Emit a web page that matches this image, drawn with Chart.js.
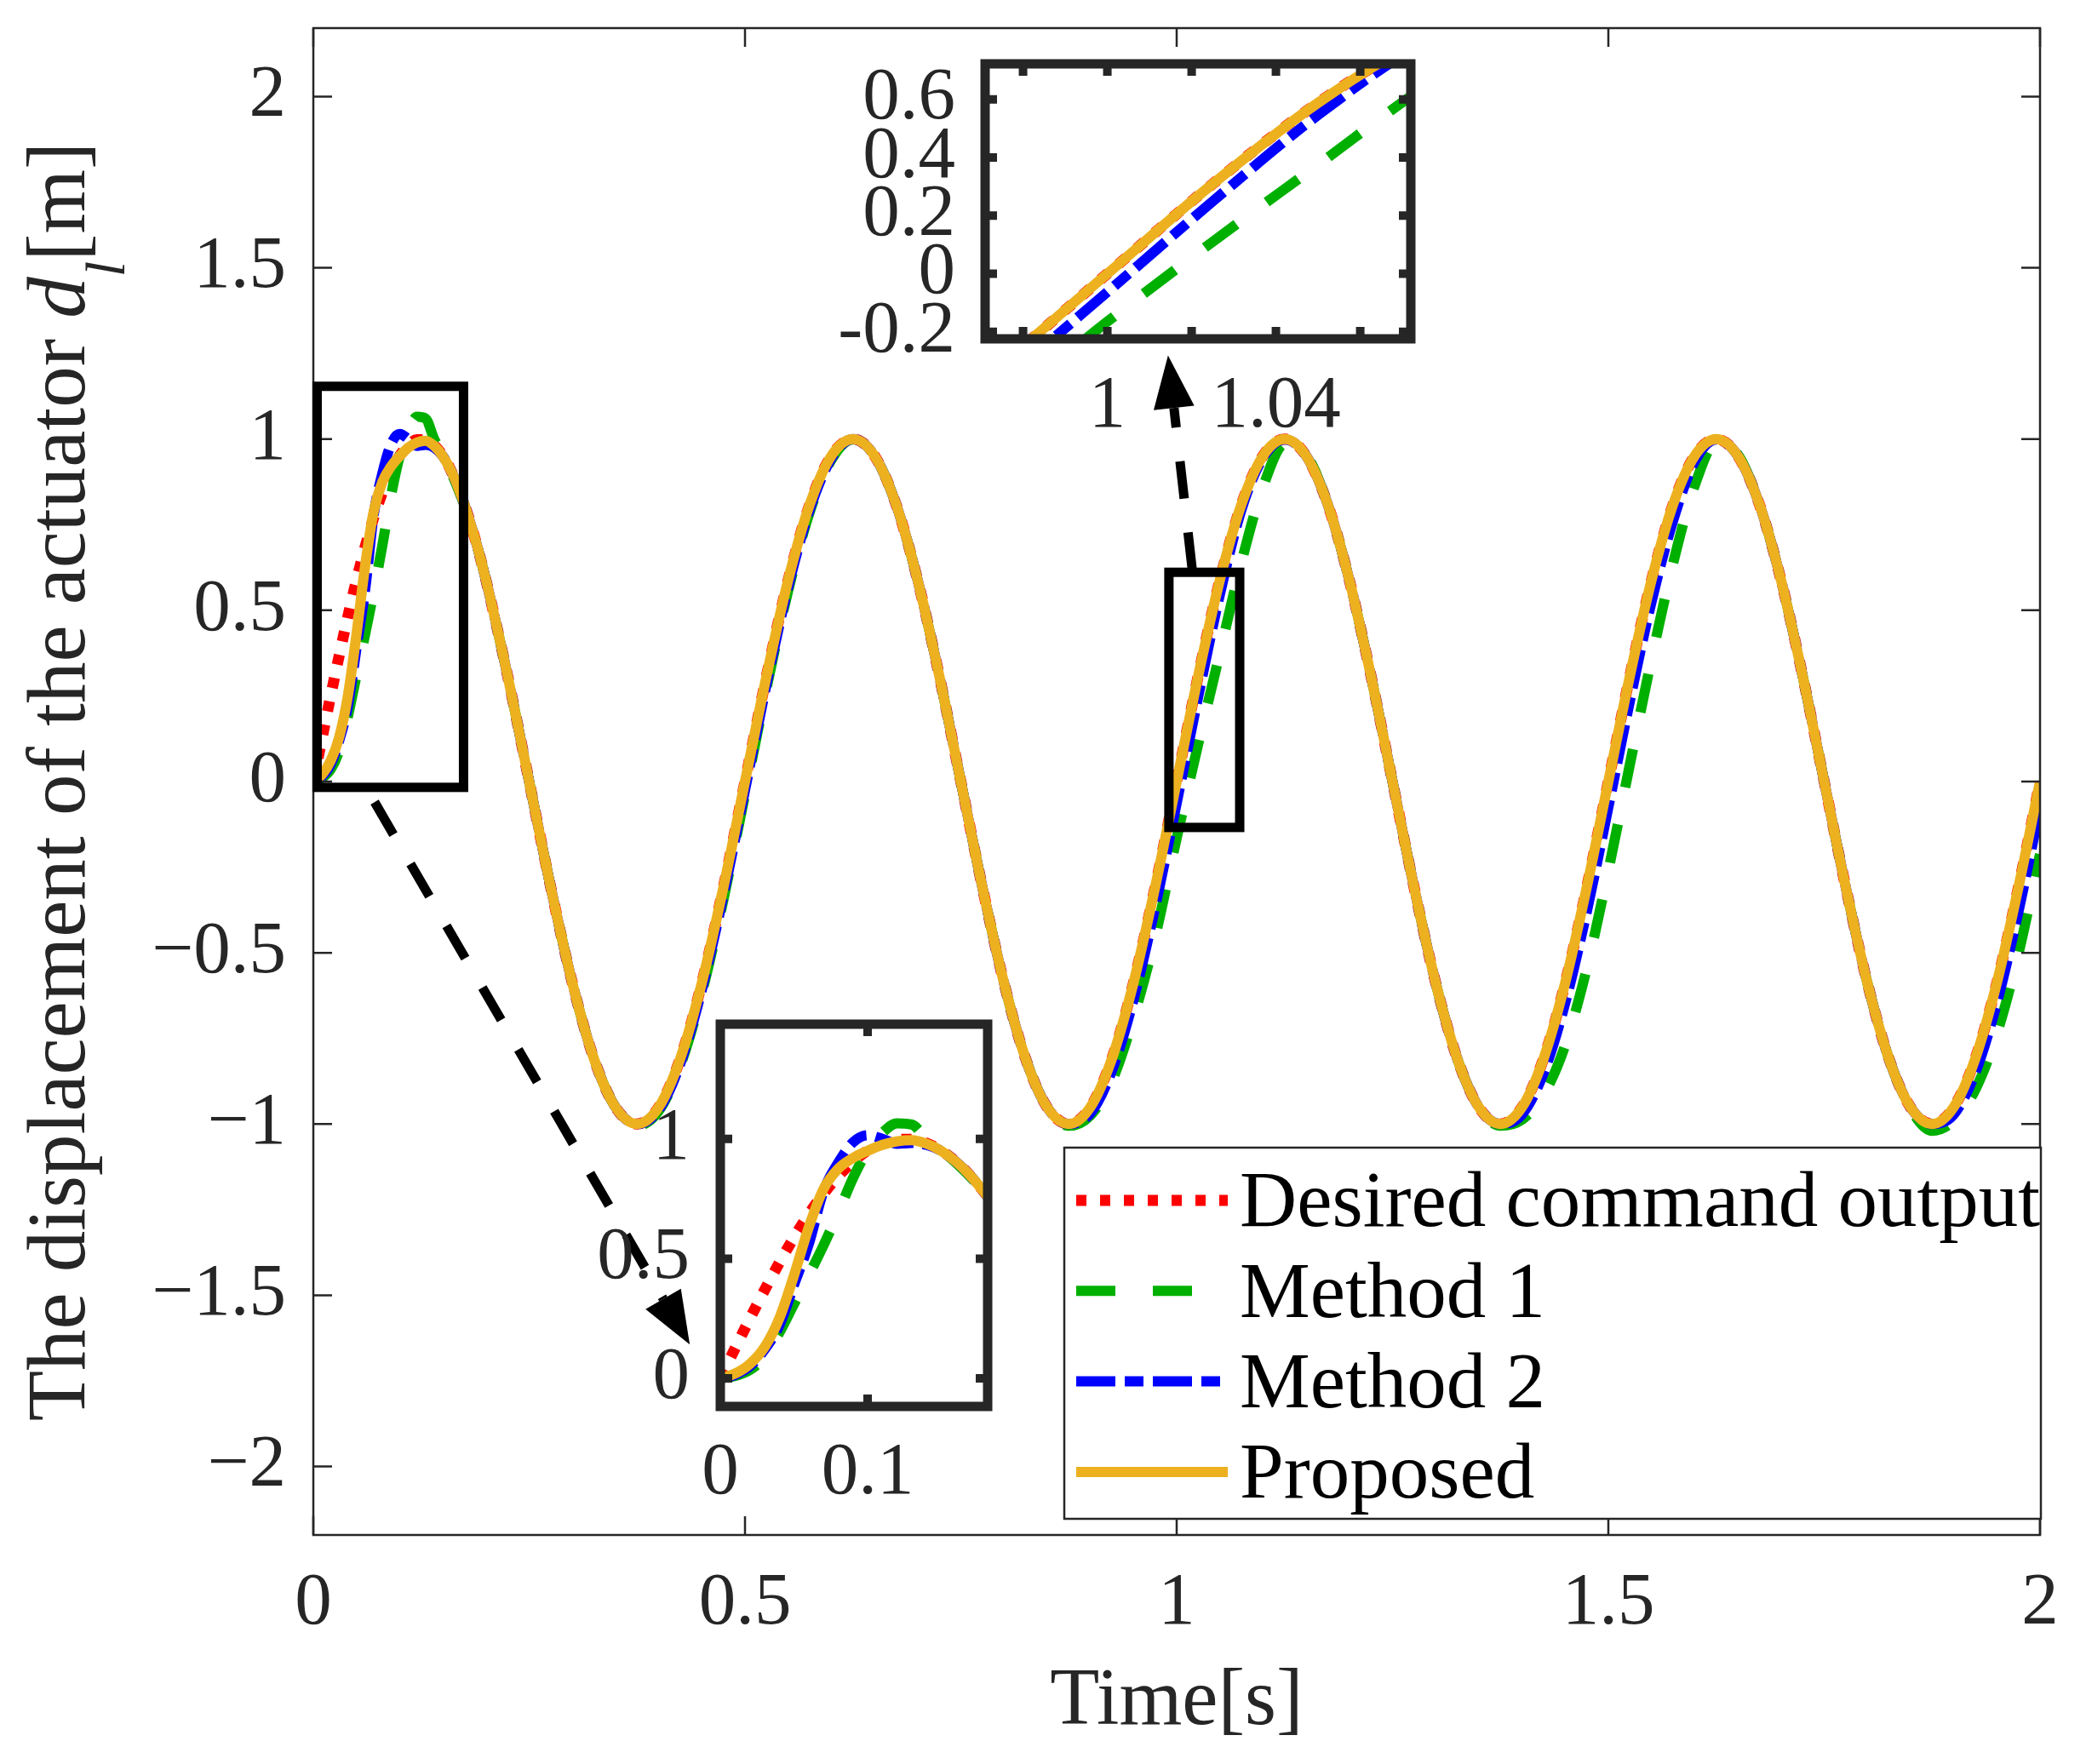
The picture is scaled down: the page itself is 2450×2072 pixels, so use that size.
<!DOCTYPE html>
<html>
<head>
<meta charset="utf-8">
<script src="https://cdn.jsdelivr.net/npm/chart.js@4.4.1/dist/chart.umd.min.js"></script>
<style>
html,body{margin:0;padding:0;background:#fff;}
#wrap{position:relative;width:2450px;height:2072px;overflow:hidden;background:#fff;}
#wrap canvas{position:absolute;}
</style>
</head>
<body>
<div id="wrap">
<canvas id="mainChart" width="2450" height="2072" style="left:0;top:0;width:2450px;height:2072px;"></canvas>
<canvas id="insetA" width="725" height="498" style="left:957px;top:50px;width:725px;height:498px;"></canvas>
<canvas id="insetB" width="539" height="624" style="left:646px;top:1178px;width:539px;height:624px;"></canvas>
</div>
<script>
// ---------------- data ----------------
const time = [0,0.01,0.02,0.03,0.04,0.05,0.06,0.07,0.08,0.09,0.1,0.11,0.12,0.13,0.14,0.15,0.16,0.17,0.18,0.19,0.2,
  0.225,0.25,0.275,0.3,0.325,0.35,0.375,0.4,0.425,0.45,0.475,
  0.5,0.525,0.55,0.575,0.6,0.625,0.65,0.675,0.7,0.725,
  0.75,0.775,0.8,0.825,0.85,0.875,0.9,0.925,0.95,0.975,
  1.0,1.025,1.05,1.075,1.1,1.125,1.15,1.175,1.2,1.225,
  1.25,1.275,1.3,1.325,1.35,1.375,1.4,1.425,1.45,1.475,
  1.5,1.525,1.55,1.575,1.6,1.625,1.65,1.675,1.7,1.725,
  1.75,1.775,1.8,1.825,1.85,1.875,1.9,1.925,1.95,1.975,
  2.0];

const desired = [0,0.125,0.249,0.368,0.482,0.588,0.685,0.771,0.844,0.905,0.951,0.982,0.998,0.998,0.982,0.951,0.905,0.844,0.771,0.685,0.588,
  0.309,0,-0.309,-0.588,-0.809,-0.951,-1,-0.951,-0.809,-0.588,-0.309,
  0,0.309,0.588,0.809,0.951,1,0.951,0.809,0.588,0.309,
  0,-0.309,-0.588,-0.809,-0.951,-1,-0.951,-0.809,-0.588,-0.309,
  0,0.309,0.588,0.809,0.951,1,0.951,0.809,0.588,0.309,
  0,-0.309,-0.588,-0.809,-0.951,-1,-0.951,-0.809,-0.588,-0.309,
  0,0.309,0.588,0.809,0.951,1,0.951,0.809,0.588,0.309,
  0,-0.309,-0.588,-0.809,-0.951,-1,-0.951,-0.809,-0.588,-0.309,
  0];

const method1 = [0,0.01,0.035,0.09,0.19,0.31,0.43,0.555,0.69,0.835,0.95,1.025,1.065,1.06,1.0,0.955,0.9,0.84,0.77,0.685,0.588,
  0.309,0,-0.309,-0.588,-0.809,-0.951,-1.005,-0.962,-0.83,-0.618,-0.345,
  -0.038,0.273,0.557,0.787,0.939,0.999,0.951,0.809,0.588,0.309,
  0,-0.309,-0.588,-0.809,-0.951,-1.005,-0.975,-0.875,-0.69,-0.455,
  -0.165,0.11,0.375,0.64,0.86,0.985,0.955,0.809,0.588,0.309,
  0,-0.309,-0.588,-0.809,-0.951,-1.005,-0.987,-0.915,-0.77,-0.546,
  -0.26,0.051,0.357,0.637,0.864,0.989,0.955,0.809,0.588,0.309,
  0,-0.309,-0.588,-0.809,-0.955,-1.02,-0.99,-0.9,-0.737,-0.503,
  -0.212];

const method2 = [0,0.015,0.05,0.12,0.22,0.39,0.56,0.78,0.9,0.985,1.015,1.0,0.98,0.983,0.975,0.95,0.905,0.845,0.77,0.685,0.588,
  0.309,0,-0.309,-0.588,-0.809,-0.951,-1,-0.959,-0.824,-0.608,-0.333,
  -0.025,0.285,0.567,0.794,0.943,1,0.951,0.809,0.588,0.309,
  0,-0.309,-0.588,-0.809,-0.951,-1,-0.969,-0.844,-0.637,-0.368,
  -0.063,0.249,0.546,0.794,0.945,0.999,0.951,0.809,0.588,0.309,
  0,-0.309,-0.588,-0.809,-0.951,-1,-0.972,-0.851,-0.647,-0.38,
  -0.075,0.236,0.525,0.762,0.934,0.999,0.951,0.809,0.588,0.309,
  0,-0.309,-0.588,-0.809,-0.951,-1,-0.972,-0.851,-0.647,-0.38,
  -0.075];

const proposed = [0,0.02,0.06,0.13,0.25,0.43,0.63,0.79,0.875,0.92,0.95,0.975,0.99,0.995,0.98,0.95,0.905,0.845,0.77,0.685,0.588,
  0.309,0,-0.309,-0.588,-0.809,-0.951,-1,-0.951,-0.809,-0.588,-0.309,
  0,0.309,0.588,0.809,0.951,1,0.951,0.809,0.588,0.309,
  0,-0.309,-0.588,-0.809,-0.951,-1,-0.951,-0.809,-0.588,-0.309,
  0,0.309,0.588,0.809,0.951,1,0.951,0.809,0.588,0.309,
  0,-0.309,-0.588,-0.809,-0.951,-1,-0.951,-0.809,-0.588,-0.309,
  0,0.309,0.588,0.809,0.951,1,0.951,0.809,0.588,0.309,
  0,-0.309,-0.588,-0.809,-0.951,-1,-0.951,-0.809,-0.588,-0.309,
  0];

const seriesNames = ['Desired command output', 'Method 1', 'Method 2', 'Proposed'];

const mainXTicks = [0, 0.5, 1, 1.5, 2];
const mainXTickLabels = ['0', '0.5', '1', '1.5', '2'];
const mainYTicks = [-2, -1.5, -1, -0.5, 0, 0.5, 1, 1.5, 2];
const mainYTickLabels = ['\u22122', '\u22121.5', '\u22121', '\u22120.5', '0', '0.5', '1', '1.5', '2'];

const insetAXTicks = [0.98, 1, 1.02, 1.04, 1.06];
const insetAXTickLabels = ['', '1', '', '1.04', ''];
const insetAYTicks = [-0.2, 0, 0.2, 0.4, 0.6];
const insetAYTickLabels = ['-0.2', '0', '0.2', '0.4', '0.6'];

const insetBXTicks = [0, 0.1];
const insetBXTickLabels = ['0', '0.1'];
const insetBYTicks = [0, 0.5, 1];
const insetBYTickLabels = ['0', '0.5', '1'];

const xTitle = 'Time[s]';
const yTitleParts = ['The displacement of the actuator ', 'd', 'l', '[m]'];

// ---------------- styles ----------------
const FAM = "'Liberation Serif', 'Times New Roman', serif";
const INK = '#262626';
const seriesValues = [desired, method1, method2, proposed];
const seriesStyles = [
  {color: '#ff0000', width: 13, dash: [12, 16], order: 3},
  {color: '#00b000', width: 12, dash: [46, 44], order: 2},
  {color: '#0000ff', width: 12, dash: [46, 11, 22, 11], order: 1},
  {color: '#edb120', width: 12, dash: [], order: 0}
];

function buildDatasets(clip) {
  return seriesValues.map((vals, i) => ({
    label: seriesNames[i],
    data: time.map((t, k) => ({x: t, y: vals[k]})),
    borderColor: seriesStyles[i].color,
    backgroundColor: seriesStyles[i].color,
    borderWidth: seriesStyles[i].width,
    borderDash: seriesStyles[i].dash,
    borderCapStyle: 'butt',
    borderJoinStyle: 'round',
    pointRadius: 0,
    pointHoverRadius: 0,
    fill: false,
    cubicInterpolationMode: 'monotone',
    order: seriesStyles[i].order,
    clip: clip
  }));
}

function scaleOpts(min, max, ticks, labels, pad, fitSize, isX, fontSize) {
  return {
    type: 'linear', min: min, max: max, position: isX ? 'bottom' : 'left',
    grid: {display: false, drawTicks: false},
    border: {display: false},
    ticks: {
      font: {family: FAM, size: fontSize}, color: INK, padding: pad,
      autoSkip: false, maxRotation: 0, minRotation: 0, includeBounds: false,
      callback: (v, i) => labels[i]
    },
    afterBuildTicks: s => { s.ticks = ticks.map(v => ({value: v})); },
    afterFit: s => {
      if (isX) s.height = fitSize; else s.width = fitSize;
      s.paddingLeft = 0; s.paddingRight = 0; s.paddingTop = 0; s.paddingBottom = 0;
    }
  };
}

// ---------------- plugins ----------------
const bgPlugin = {
  id: 'bg',
  beforeDraw(chart, args, o) {
    const ctx = chart.ctx, a = chart.chartArea;
    ctx.save();
    ctx.fillStyle = '#ffffff';
    if (o.whole) ctx.fillRect(0, 0, chart.width, chart.height);
    else ctx.fillRect(a.left, a.top, a.right - a.left, a.bottom - a.top);
    ctx.restore();
  }
};

const framePlugin = {
  id: 'frame',
  afterDatasetsDraw(chart, args, o) {
    const ctx = chart.ctx, a = chart.chartArea, x = chart.scales.x, y = chart.scales.y;
    ctx.save();
    ctx.setLineDash([]);
    ctx.lineCap = 'butt';
    ctx.strokeStyle = o.color;
    ctx.lineWidth = o.tickWidth;
    ctx.beginPath();
    x.ticks.forEach(t => {
      const px = x.getPixelForValue(t.value);
      ctx.moveTo(px, a.bottom); ctx.lineTo(px, a.bottom - o.tickLen);
      ctx.moveTo(px, a.top); ctx.lineTo(px, a.top + o.tickLen);
    });
    y.ticks.forEach(t => {
      const py = y.getPixelForValue(t.value);
      ctx.moveTo(a.left, py); ctx.lineTo(a.left + o.tickLen, py);
      ctx.moveTo(a.right, py); ctx.lineTo(a.right - o.tickLen, py);
    });
    ctx.stroke();
    ctx.lineWidth = o.lineWidth;
    ctx.lineJoin = 'miter';
    ctx.strokeRect(a.left, a.top, a.right - a.left, a.bottom - a.top);
    ctx.restore();
  }
};

const annotPlugin = {
  id: 'annot',
  afterDraw(chart, args, o) {
    const ctx = chart.ctx, x = chart.scales.x, y = chart.scales.y;
    ctx.save();
    ctx.strokeStyle = '#000';
    ctx.fillStyle = '#000';
    ctx.lineWidth = o.lineWidth;
    ctx.setLineDash([]);
    ctx.lineJoin = 'miter';
    o.boxes.forEach(b => {
      const x0 = x.getPixelForValue(b.x0), x1 = x.getPixelForValue(b.x1);
      const y0 = y.getPixelForValue(b.y1), y1 = y.getPixelForValue(b.y0);
      ctx.strokeRect(x0, y0, x1 - x0, y1 - y0);
    });
    o.arrows.forEach(ar => {
      const sx = x.getPixelForValue(ar.from[0]), sy = y.getPixelForValue(ar.from[1]);
      const tx = x.getPixelForValue(ar.to[0]), ty = y.getPixelForValue(ar.to[1]);
      const len = Math.hypot(tx - sx, ty - sy);
      const ux = (tx - sx) / len, uy = (ty - sy) / len;
      const bx = tx - ux * o.headLen, by = ty - uy * o.headLen;
      ctx.setLineDash(o.dash);
      ctx.lineCap = 'butt';
      ctx.beginPath(); ctx.moveTo(sx, sy); ctx.lineTo(bx, by); ctx.stroke();
      ctx.setLineDash([]);
      ctx.beginPath();
      ctx.moveTo(tx, ty);
      ctx.lineTo(bx - uy * o.headHalf, by + ux * o.headHalf);
      ctx.lineTo(bx + uy * o.headHalf, by - ux * o.headHalf);
      ctx.closePath(); ctx.fill();
    });
    ctx.restore();
  }
};

const legendPlugin = {
  id: 'boxLegend',
  afterDraw(chart, args, o) {
    const ctx = chart.ctx;
    ctx.save();
    ctx.fillStyle = '#fff';
    ctx.fillRect(o.left, o.top, o.right - o.left, o.bottom - o.top);
    ctx.strokeStyle = INK; ctx.lineWidth = 2.5; ctx.setLineDash([]);
    ctx.strokeRect(o.left, o.top, o.right - o.left, o.bottom - o.top);
    chart.data.datasets.forEach((ds, i) => {
      const yy = o.firstY + i * o.rowH;
      ctx.beginPath();
      ctx.setLineDash(ds.borderDash || []);
      ctx.lineCap = ds.borderCapStyle || 'butt';
      ctx.lineWidth = ds.borderWidth;
      ctx.strokeStyle = ds.borderColor;
      ctx.moveTo(o.lineX0, yy); ctx.lineTo(o.lineX1, yy);
      ctx.stroke();
      ctx.setLineDash([]);
      ctx.fillStyle = '#000';
      ctx.font = o.fontSize + 'px ' + FAM;
      ctx.textBaseline = 'middle';
      ctx.textAlign = 'left';
      ctx.fillText(ds.label, o.textX, yy + o.textDy);
    });
    ctx.restore();
  }
};

const titlePlugin = {
  id: 'titles',
  afterDraw(chart, args, o) {
    const ctx = chart.ctx, a = chart.chartArea;
    ctx.save();
    ctx.fillStyle = INK;
    ctx.textBaseline = 'alphabetic';
    // x title
    ctx.font = o.xSize + 'px ' + FAM;
    ctx.textAlign = 'center';
    ctx.fillText(xTitle, (a.left + a.right) / 2, o.xBaseline);
    // y title with italic d and subscript l
    const fonts = [o.ySize + 'px ' + FAM, 'italic ' + o.ySize + 'px ' + FAM, 'italic ' + o.subSize + 'px ' + FAM, o.ySize + 'px ' + FAM];
    const shifts = [0, 0, o.subShift, 0];
    const widths = yTitleParts.map((t, i) => { ctx.font = fonts[i]; return ctx.measureText(t).width; });
    const total = widths.reduce((s, w) => s + w, 0);
    ctx.translate(o.yBaseline, (a.top + a.bottom) / 2);
    ctx.rotate(-Math.PI / 2);
    ctx.textAlign = 'left';
    let cx = -total / 2;
    yTitleParts.forEach((t, i) => {
      ctx.font = fonts[i];
      ctx.fillText(t, cx, shifts[i]);
      cx += widths[i];
    });
    ctx.restore();
  }
};

const baseOpts = {responsive: false, animation: false, devicePixelRatio: 1, events: []};

// ---------------- main chart ----------------
new Chart(document.getElementById('mainChart'), {
  type: 'line',
  data: {datasets: buildDatasets(undefined)},
  plugins: [bgPlugin, framePlugin, annotPlugin, legendPlugin, titlePlugin],
  options: Object.assign({}, baseOpts, {
    layout: {autoPadding: false, padding: {left: 0, top: 33, right: 54, bottom: 0}},
    scales: {
      x: scaleOpts(0, 2, mainXTicks, mainXTickLabels, 29, 269, true, 87),
      y: scaleOpts(-2.2, 2.2, mainYTicks, mainYTickLabels, 32, 368, false, 87)
    },
    plugins: {
      legend: {display: false}, tooltip: {enabled: false},
      bg: {whole: true},
      frame: {color: INK, lineWidth: 2.5, tickWidth: 2.5, tickLen: 22},
      annot: {
        lineWidth: 11, dash: [44, 40], headLen: 62, headHalf: 24,
        boxes: [{x0: 0.0044, x1: 0.174, y0: -0.017, y1: 1.154}, {x0: 0.991, x1: 1.073, y0: -0.134, y1: 0.611}],
        arrows: [{from: [0.071, -0.06], to: [0.436, -1.644]}, {from: [1.018, 0.619], to: [0.99, 1.244]}]
      },
      boxLegend: {left: 1250, top: 1348, right: 2397, bottom: 1784, lineX0: 1264, lineX1: 1442, textX: 1456, firstY: 1410, rowH: 106.3, textDy: 6, fontSize: 93},
      titles: {xSize: 95, xBaseline: 2025, ySize: 97, subSize: 66, subShift: 47, yBaseline: 99}
    }
  })
});

// ---------------- inset A (around t = 1) ----------------
new Chart(document.getElementById('insetA'), {
  type: 'line',
  data: {datasets: buildDatasets(0)},
  plugins: [bgPlugin, framePlugin],
  options: Object.assign({}, baseOpts, {
    layout: {autoPadding: false, padding: {left: 0, top: 25, right: 25, bottom: 0}},
    scales: {
      x: scaleOpts(0.971, 1.072, insetAXTicks, insetAXTickLabels, 28, 150, true, 87),
      y: scaleOpts(-0.224, 0.722, insetAYTicks, insetAYTickLabels, 35, 200, false, 87)
    },
    plugins: {
      legend: {display: false}, tooltip: {enabled: false},
      bg: {whole: false},
      frame: {color: INK, lineWidth: 11, tickWidth: 10, tickLen: 14}
    }
  })
});

// ---------------- inset B (start-up) ----------------
new Chart(document.getElementById('insetB'), {
  type: 'line',
  data: {datasets: buildDatasets(0)},
  plugins: [bgPlugin, framePlugin],
  options: Object.assign({}, baseOpts, {
    layout: {autoPadding: false, padding: {left: 0, top: 25, right: 25, bottom: 0}},
    scales: {
      x: scaleOpts(0, 0.1815, insetBXTicks, insetBXTickLabels, 27, 150, true, 87),
      y: scaleOpts(-0.117, 1.479, insetBYTicks, insetBYTickLabels, 36, 200, false, 87)
    },
    plugins: {
      legend: {display: false}, tooltip: {enabled: false},
      bg: {whole: false},
      frame: {color: INK, lineWidth: 11, tickWidth: 10, tickLen: 14}
    }
  })
});
</script>
</body>
</html>
